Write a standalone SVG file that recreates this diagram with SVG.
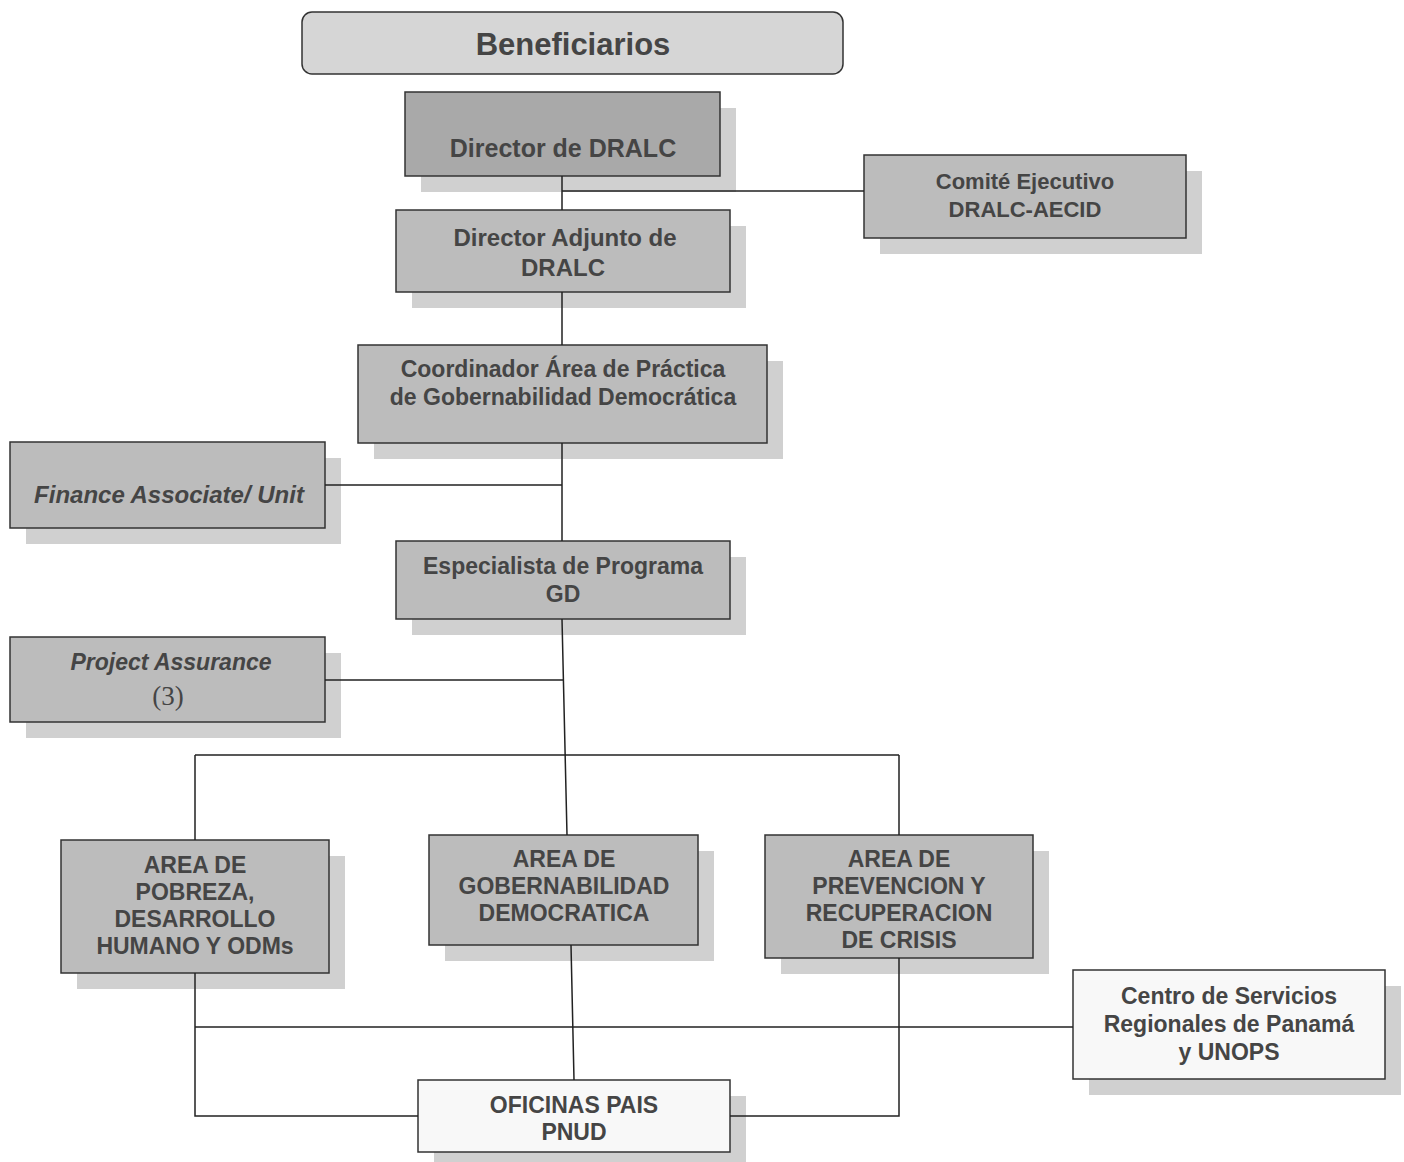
<svg xmlns="http://www.w3.org/2000/svg" width="1404" height="1162" viewBox="0 0 1404 1162">
<style>
.bx{fill:#bcbcbc;stroke:#333;stroke-width:1.5}
.dk{fill:#a9a9a9;stroke:#333;stroke-width:1.5}
.wh{fill:#f8f8f8;stroke:#333;stroke-width:1.5}
.sh{fill:#d0d0d0}
.t{font-family:"Liberation Sans",Arial,sans-serif;font-weight:bold;font-size:23px;fill:#454545;text-anchor:middle}
.i{font-style:italic}
.ln{stroke:#222;stroke-width:1.5;fill:none}
</style>
<rect width="1404" height="1162" fill="#ffffff"/>
<g id="beneficiarios">
<rect x="302" y="12" width="541" height="62" rx="10" fill="#d6d6d6" stroke="#333" stroke-width="1.5"/>
<text class="t" x="573" y="55" style="font-size:31px">Beneficiarios</text>
</g>
<g id="director">
<rect class="sh" x="421" y="108" width="315" height="84"/>
<rect class="dk" x="405" y="92" width="315" height="84"/>
<text class="t" x="563" y="157" style="font-size:25px">Director de DRALC</text>
</g>
<g id="comite">
<rect class="sh" x="880" y="171" width="322" height="83"/>
<rect class="bx" x="864" y="155" width="322" height="83"/>
<text class="t" x="1025" y="189" style="font-size:22px">Comité Ejecutivo</text>
<text class="t" x="1025" y="217" style="font-size:22px">DRALC-AECID</text>
</g>
<g id="adjunto">
<rect class="sh" x="412" y="226" width="334" height="82"/>
<rect class="bx" x="396" y="210" width="334" height="82"/>
<text class="t" x="565" y="246" style="font-size:24px">Director Adjunto de</text>
<text class="t" x="563" y="276" style="font-size:24px">DRALC</text>
</g>
<g id="coordinador">
<rect class="sh" x="374" y="361" width="409" height="98"/>
<rect class="bx" x="358" y="345" width="409" height="98"/>
<text class="t" x="563" y="377">Coordinador Área de Práctica</text>
<text class="t" x="563" y="405">de Gobernabilidad Democrática</text>
</g>
<g id="finance">
<rect class="sh" x="26" y="458" width="315" height="86"/>
<rect class="bx" x="10" y="442" width="315" height="86"/>
<text class="t i" x="169" y="503" style="font-size:24px">Finance Associate/ Unit</text>
</g>
<g id="especialista">
<rect class="sh" x="412" y="557" width="334" height="78"/>
<rect class="bx" x="396" y="541" width="334" height="78"/>
<text class="t" x="563" y="574">Especialista de Programa</text>
<text class="t" x="563" y="602">GD</text>
</g>
<g id="assurance">
<rect class="sh" x="26" y="653" width="315" height="85"/>
<rect class="bx" x="10" y="637" width="315" height="85"/>
<text class="t i" x="171" y="670">Project Assurance</text>
<text x="168" y="705" style="font-family:'Liberation Serif','Times New Roman',serif;font-size:27px;fill:#454545;text-anchor:middle">(3)</text>
</g>
<g id="pobreza">
<rect class="sh" x="77" y="856" width="268" height="133"/>
<rect class="bx" x="61" y="840" width="268" height="133"/>
<text class="t" x="195" y="873">AREA DE</text>
<text class="t" x="195" y="900">POBREZA,</text>
<text class="t" x="195" y="927">DESARROLLO</text>
<text class="t" x="195" y="954">HUMANO Y ODMs</text>
</g>
<g id="gobernabilidad">
<rect class="sh" x="445" y="851" width="269" height="110"/>
<rect class="bx" x="429" y="835" width="269" height="110"/>
<text class="t" x="564" y="867">AREA DE</text>
<text class="t" x="564" y="894">GOBERNABILIDAD</text>
<text class="t" x="564" y="921">DEMOCRATICA</text>
</g>
<g id="prevencion">
<rect class="sh" x="781" y="851" width="268" height="123"/>
<rect class="bx" x="765" y="835" width="268" height="123"/>
<text class="t" x="899" y="867">AREA DE</text>
<text class="t" x="899" y="894">PREVENCION Y</text>
<text class="t" x="899" y="921">RECUPERACION</text>
<text class="t" x="899" y="948">DE CRISIS</text>
</g>
<g id="centro">
<rect class="sh" x="1089" y="986" width="312" height="109"/>
<rect class="wh" x="1073" y="970" width="312" height="109"/>
<text class="t" x="1229" y="1004">Centro de Servicios</text>
<text class="t" x="1229" y="1032">Regionales de Panamá</text>
<text class="t" x="1229" y="1060">y UNOPS</text>
</g>
<g id="oficinas">
<rect class="sh" x="434" y="1096" width="312" height="66"/>
<rect class="wh" x="418" y="1080" width="312" height="72"/>
<text class="t" x="574" y="1113">OFICINAS PAIS</text>
<text class="t" x="574" y="1140">PNUD</text>
</g>
<g id="connectors">
<path class="ln" d="M562 176V210M562 191H864M562 292V345M562 443V541M325 485H562M562 619L567 835M325 680H564M195 755H899M195 755V840M899 755V835M571 945L574 1080M195 973V1116H418M899 958V1116H730M195 1027H1073"/>
</g>
</svg>
